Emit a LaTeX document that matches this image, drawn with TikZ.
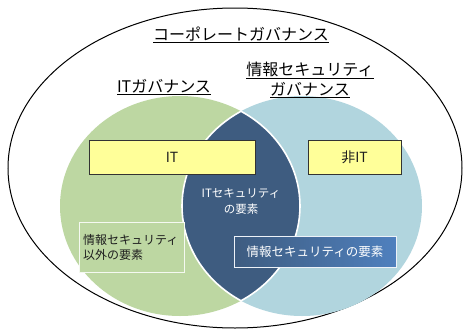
\documentclass[tikz,border=0pt]{standalone}
\usepackage{fontspec}
\setmainfont{Noto Sans CJK JP}
\definecolor{gfill}{RGB}{189,215,162}
\definecolor{bfill}{RGB}{177,213,222}
\definecolor{lensfill}{RGB}{62,92,128}
\definecolor{yfill}{RGB}{255,255,153}
\definecolor{boxblueR}{RGB}{79,128,190}
\definecolor{txt}{RGB}{30,30,30}
\tikzset{
  title/.style={font=\fontsize{16}{20}\selectfont, text=black, align=center, inner sep=1pt},
  ybox/.style={draw=black!80, line width=1pt, fill=yfill, font=\fontsize{14}{16}\selectfont, text=txt, inner sep=0pt},
  gbox/.style={draw=white!85!gfill, line width=1pt, fill=gfill, font=\fontsize{12}{15}\selectfont, text=txt, align=left, inner sep=4pt},
  bbox/.style={draw=white!90!boxblueR, line width=1pt, left color=lensfill, right color=boxblueR, font=\fontsize{12.5}{15}\selectfont, text=white, inner sep=0pt},
  lenstext/.style={font=\fontsize{11.5}{16}\selectfont, text=white, align=center, inner sep=0pt},
  lensline/.style={draw=white, line width=1.6pt}
}
\begin{document}
\begin{tikzpicture}[x=1pt,y=-1pt]
\useasboundingbox[fill=white] (0,0) rectangle (464,333);
% outer ellipse
\draw[line width=1pt] (235,168) ellipse [x radius=227, y radius=160];
% two circles
\fill[gfill] (180,206) ellipse [x radius=120, y radius=110];
\fill[bfill] (302,206) ellipse [x radius=120, y radius=110];
\begin{scope}
  \clip (180,206) ellipse [x radius=120, y radius=110];
  \fill[lensfill] (302,206) ellipse [x radius=120, y radius=110];
  \draw[lensline] (302,206) ellipse [x radius=120, y radius=110];
\end{scope}
\begin{scope}
  \clip (302,206) ellipse [x radius=120, y radius=110];
  \draw[lensline] (180,206) ellipse [x radius=120, y radius=110];
\end{scope}
% titles
\node[title] (corp) at (241,35) {\underline{コーポレートガバナンス}};
\node[title] (itg) at (164,87) {\underline{ITガバナンス}};
\node[title] (isg) at (310,80) {\underline{情報セキュリティ}\\\underline{ガバナンス}};
% boxes
\node[ybox, minimum width=166pt, minimum height=34pt] (it) at (172,157) {IT};
\node[ybox, minimum width=93pt, minimum height=34pt] (nonit) at (354.5,157) {非IT};
\node[gbox, text width=97pt, minimum height=50pt] (other) at (131.5,247) {情報セキュリティ\\以外の要素};
\node[lenstext] (itsec) at (241,201) {ITセキュリティ\\の要素};
\node[bbox, minimum width=162pt, minimum height=31pt] (sec) at (315,251.5) {情報セキュリティの要素};
\end{tikzpicture}
\end{document}
